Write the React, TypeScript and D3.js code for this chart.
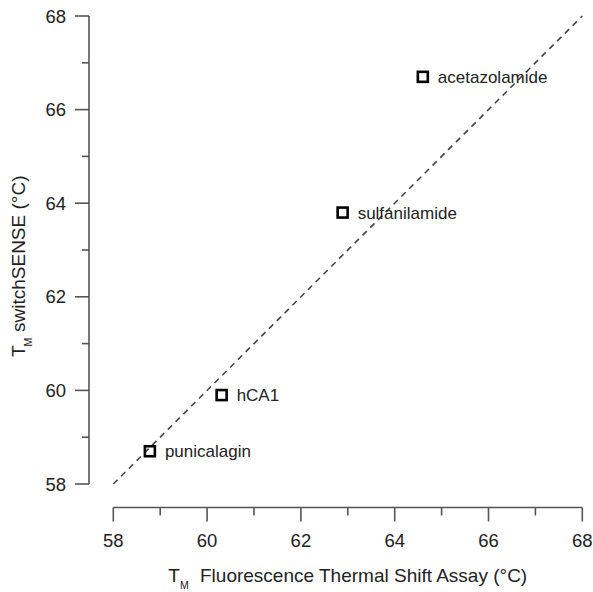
import React from "react";
import * as d3 from "d3";

const compounds = ["punicalagin", "hCA1", "sulfanilamide", "acetazolamide"];
const fluorescenceTm = [58.78, 60.31, 62.89, 64.6];
const switchSenseTm = [58.7, 59.9, 63.8, 66.7];
const majorTicks = [58, 60, 62, 64, 66, 68];
const minorTicks = [59, 61, 63, 65, 67];
const identityLine = [58, 68];

const W = 593;
const H = 592;
const FONT = "'Liberation Sans', Arial, Helvetica, sans-serif";

export default function App() {
  const x = d3.scaleLinear().domain([58, 68]).range([113.3, 582.3]);
  const y = d3.scaleLinear().domain([58, 68]).range([484, 16]);
  const axisX = 89;
  const axisY = 507.5;
  const axisColor = "#555";

  const line = d3
    .line<number>()
    .x((d) => x(d))
    .y((d) => y(d));

  return (
    <svg
      width={W}
      height={H}
      style={{ position: "absolute", left: 0, top: 0, background: "#fff" }}
      fontFamily={FONT}
    >
      {/* identity dashed line */}
      <path
        d={line(identityLine) || ""}
        fill="none"
        stroke="#444"
        strokeWidth={1.6}
        strokeDasharray="6,5"
      />

      {/* Y axis */}
      <line x1={axisX} x2={axisX} y1={y(58)} y2={y(68)} stroke={axisColor} strokeWidth={1.6} />
      {majorTicks.map((t) => (
        <g key={"ym" + t}>
          <line x1={axisX - 14} x2={axisX} y1={y(t)} y2={y(t)} stroke={axisColor} strokeWidth={1.6} />
          <text x={66} y={y(t) + 6.5} textAnchor="end" fontSize={18.5} fill="#222">
            {t}
          </text>
        </g>
      ))}
      {minorTicks.map((t) => (
        <line key={"yn" + t} x1={axisX - 7} x2={axisX} y1={y(t)} y2={y(t)} stroke={axisColor} strokeWidth={1.6} />
      ))}

      {/* X axis */}
      <line x1={x(58)} x2={x(68)} y1={axisY} y2={axisY} stroke={axisColor} strokeWidth={1.6} />
      {majorTicks.map((t) => (
        <g key={"xm" + t}>
          <line x1={x(t)} x2={x(t)} y1={axisY} y2={axisY + 14} stroke={axisColor} strokeWidth={1.6} />
          <text x={x(t)} y={547} textAnchor="middle" fontSize={18.5} fill="#222">
            {t}
          </text>
        </g>
      ))}
      {minorTicks.map((t) => (
        <line key={"xn" + t} x1={x(t)} x2={x(t)} y1={axisY} y2={axisY + 8} stroke={axisColor} strokeWidth={1.6} />
      ))}

      {/* X title */}
      <text x={168.3} y={582} fontSize={19} fill="#222">
        T
        <tspan fontSize={10.5} dy={7}>M</tspan>
        <tspan x={200} dy={-7}>Fluorescence Thermal Shift Assay (°C)</tspan>
      </text>

      {/* Y title */}
      <g transform="translate(25,357) rotate(-90)">
        <text x={0} y={0} fontSize={19} fill="#222">
          T
          <tspan fontSize={10.5} dy={7} dx={-1}>M</tspan>
          <tspan x={25} dy={-7}>switchSENSE (°C)</tspan>
        </text>
      </g>

      {/* points */}
      {compounds.map((c, i) => (
        <g key={c}>
          <rect
            x={x(fluorescenceTm[i]) - 5}
            y={y(switchSenseTm[i]) - 5}
            width={10}
            height={10}
            fill="none"
            stroke="#000"
            strokeWidth={2.6}
          />
          <text x={x(fluorescenceTm[i]) + 15} y={y(switchSenseTm[i]) + 6} fontSize={17} fill="#222">
            {c}
          </text>
        </g>
      ))}
    </svg>
  );
}
